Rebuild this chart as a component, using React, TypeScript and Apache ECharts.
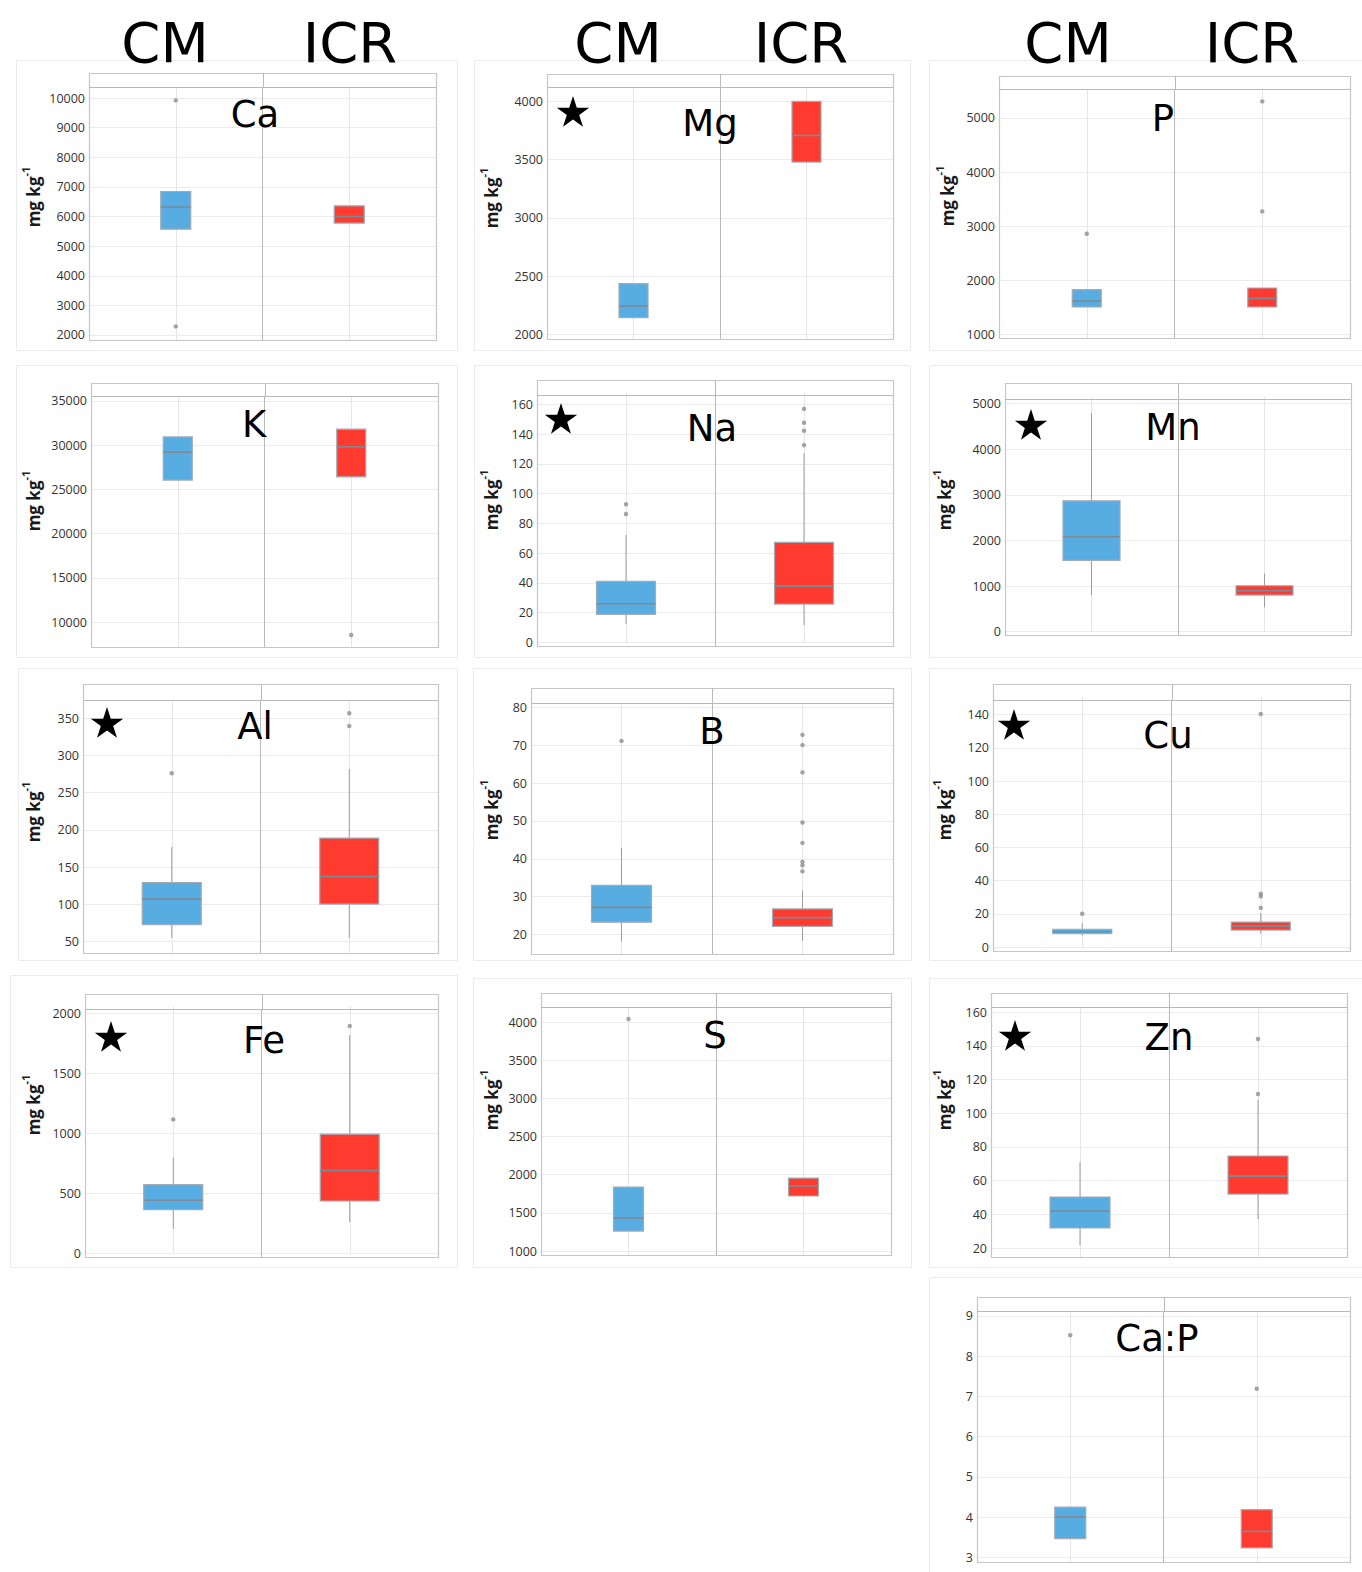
import React, { useEffect, useRef } from 'react';
import * as echarts from 'echarts';

const categories = ['CM', 'ICR'];
const elements = ['Ca', 'Mg', 'P', 'K', 'Na', 'Mn', 'Al', 'B', 'Cu', 'Fe', 'S', 'Zn', 'Ca:P'];
const significant = [false, true, false, false, true, true, true, false, true, true, false, true, false];
const yAxisTitle = ['mg kg', '-1'];

// box values: [whisker min, Q1, median, Q3, whisker max], one row per category
const caBoxes = [[5574, 5574, 6318, 6845, 6845], [5777, 5777, 6000, 6361, 6361]];
const caOutliers = [[0, 9920], [0, 2290]];
const mgBoxes = [[2143, 2143, 2243, 2435, 2435], [3479, 3479, 3708, 4000, 4000]];
const mgOutliers: number[][] = [];
const pBoxes = [[1500, 1500, 1611, 1820, 1820], [1500, 1500, 1659, 1852, 1852]];
const pOutliers = [[0, 2857], [1, 5307], [1, 3270]];
const kBoxes = [[26056, 26056, 29214, 30940, 30940], [26428, 26428, 29812, 31808, 31808]];
const kOutliers = [[1, 8534]];
const naBoxes = [[12.3, 18.8, 25.9, 41.0, 72.1], [11.6, 25.7, 37.8, 67.2, 127.1]];
const naOutliers = [[0, 92.8], [0, 86.3], [1, 157.0], [1, 147.6], [1, 142.3], [1, 132.6]];
const mnBoxes = [[803, 1563, 2080, 2868, 4794], [534, 803, 898, 1007, 1278]];
const mnOutliers: number[][] = [];
const alBoxes = [[54.6, 72.4, 106.9, 129.2, 176.8], [54.6, 100.2, 137.3, 188.9, 281.9]];
const alOutliers = [[0, 276.2], [1, 356.7], [1, 339.6]];
const bBoxes = [[18.2, 23.3, 27.2, 33.0, 42.9], [18.4, 22.2, 24.5, 26.8, 31.7]];
const bOutliers = [[0, 71.1], [1, 72.7], [1, 70.0], [1, 62.8], [1, 49.6], [1, 44.2], [1, 39.2], [1, 38.3], [1, 36.7]];
const cuBoxes = [[6.8, 8.0, 9.2, 10.6, 14.3], [8.0, 10.2, 12.6, 15.0, 20.5]];
const cuOutliers = [[0, 20.0], [1, 140.4], [1, 32.1], [1, 30.5], [1, 23.6]];
const feBoxes = [[208, 367, 444, 575, 800], [263, 438, 692, 994, 1819]];
const feOutliers = [[0, 1117], [1, 1894]];
const sBoxes = [[1262, 1262, 1432, 1838, 1838], [1721, 1721, 1852, 1956, 1956]];
const sOutliers = [[0, 4039]];
const znBoxes = [[21.8, 31.9, 42, 50.3, 71], [37.2, 52, 62.7, 74.6, 107.8]];
const znOutliers = [[1, 144], [1, 111.4]];
const caPBoxes = [[3.47, 3.47, 4.01, 4.25, 4.25], [3.24, 3.24, 3.65, 4.19, 4.19]];
const caPOutliers = [[0, 8.52], [1, 7.19]];

const allBoxes = [caBoxes, mgBoxes, pBoxes, kBoxes, naBoxes, mnBoxes, alBoxes, bBoxes, cuBoxes, feBoxes, sBoxes, znBoxes, caPBoxes];
const allOutliers = [caOutliers, mgOutliers, pOutliers, kOutliers, naOutliers, mnOutliers, alOutliers, bOutliers, cuOutliers, feOutliers, sOutliers, znOutliers, caPOutliers];

// y axis ranges and tick steps
const yMins = [1831, 1960, 926, 7180, -2.5, -72, 34.4, 14.9, -2.4, -28, 948, 14.7, 2.89];
const yMaxs = [10372, 4124, 5537, 35564, 166.3, 5101, 374.6, 81.1, 148.8, 2036, 4197, 163, 9.12];
const yIntervals = [1000, 500, 1000, 5000, 20, 1000, 50, 10, 20, 500, 500, 20, 1];

// layout (pixels): frame [x,y,w,h]; plot [left, top, right, headerY, bottom]
const layout = [
  { frame: [16, 60, 441, 290], plot: [89, 73, 436, 87, 340], label: [255, 114], star: null, yName: [31, 197], boxW: 30 },
  { frame: [474, 60, 436, 290], plot: [547, 74, 893, 87, 339], label: [710, 123], star: [573, 113], yName: [489, 198], boxW: 29 },
  { frame: [929, 60, 440, 290], plot: [999, 76, 1350, 89, 338], label: [1163, 118], star: null, yName: [945, 196], boxW: 29 },
  { frame: [16, 365, 441, 292], plot: [91, 383, 438, 396, 647], label: [254, 424], star: null, yName: [31, 501], boxW: 29 },
  { frame: [474, 365, 436, 292], plot: [537, 380, 893, 395, 646], label: [712, 428], star: [561, 420], yName: [489, 500], boxW: 59 },
  { frame: [929, 365, 440, 292], plot: [1005, 383, 1351, 399, 635], label: [1173, 427], star: [1031, 426], yName: [942, 500], boxW: 57 },
  { frame: [18, 668, 439, 292], plot: [83, 684, 438, 700, 953], label: [255, 726], star: [107, 724], yName: [31, 812], boxW: 59 },
  { frame: [473, 668, 438, 292], plot: [531, 688, 893, 703, 954], label: [712, 731], star: null, yName: [489, 810], boxW: 60 },
  { frame: [929, 668, 440, 292], plot: [993, 684, 1350, 700, 951], label: [1168, 735], star: [1014, 726], yName: [942, 810], boxW: 59 },
  { frame: [10, 975, 447, 292], plot: [85, 994, 438, 1009, 1257], label: [264, 1040], star: [111, 1038], yName: [31, 1105], boxW: 59 },
  { frame: [473, 978, 438, 289], plot: [541, 993, 891, 1007, 1255], label: [715, 1035], star: null, yName: [489, 1100], boxW: 30 },
  { frame: [929, 978, 440, 289], plot: [991, 993, 1347, 1007, 1257], label: [1169, 1037], star: [1015, 1037], yName: [942, 1100], boxW: 60 },
  { frame: [929, 1277, 440, 300], plot: [977, 1297, 1350, 1311, 1562], label: [1157, 1338], star: null, yName: null, boxW: 31 },
];

const headerLabels = [
  { x: 165, y: 42, t: 0 }, { x: 350, y: 42, t: 1 },
  { x: 618, y: 42, t: 0 }, { x: 801, y: 42, t: 1 },
  { x: 1068, y: 42, t: 0 }, { x: 1252, y: 42, t: 1 },
];

const FILLS = ['#57ADE1', '#FF3A2F'];

function starPoints(cx: number, cy: number, R: number) {
  const pts: number[][] = [];
  for (let i = 0; i < 10; i++) {
    const a = -Math.PI / 2 + (i * Math.PI) / 5;
    const r = i % 2 === 0 ? R : R * 0.382;
    pts.push([cx + r * Math.cos(a), cy + r * Math.sin(a)]);
  }
  return pts;
}

function buildOption() {
  const grid: any[] = [];
  const xAxis: any[] = [];
  const yAxis: any[] = [];
  const series: any[] = [];
  const graphic: any[] = [];

  layout.forEach((L, i) => {
    const [left, top, right, headerY, bottom] = L.plot;
    const h = bottom - headerY;
    grid.push({ left, top: headerY, width: right - left, height: h, outerBoundsMode: 'none', containLabel: false, show: false });
    xAxis.push({
      type: 'category', gridIndex: i, data: categories, boundaryGap: true,
      axisLine: { show: false }, axisLabel: { show: false },
      axisTick: { show: true, alignWithLabel: true, inside: true, length: h - 1, lineStyle: { color: '#e6e6e6', width: 1 } },
      splitLine: { show: true, interval: 0, lineStyle: { color: '#b9b9b9', width: 1 } },
    });
    const step = yIntervals[i];
    yAxis.push({
      type: 'value', gridIndex: i, min: yMins[i], max: yMaxs[i], minInterval: step, maxInterval: step,
      axisLine: { show: false }, axisTick: { show: false },
      splitLine: { show: true, lineStyle: { color: '#ececec', width: 1 } },
      axisLabel: {
        show: true, showMinLabel: false, showMaxLabel: false, margin: 4,
        color: '#333', fontSize: 12.5, fontFamily: 'Open Sans',
        formatter: (v: number) => {
          const r = v / step;
          return Math.abs(r - Math.round(r)) < 1e-6 ? String(+v.toFixed(6)) : '';
        },
      },
    });
    const boxW = L.boxW;
    series.push({
      type: 'custom', xAxisIndex: i, yAxisIndex: i, silent: true, z: 3,
      data: allBoxes[i].map((b, k) => [k, ...b]),
      encode: { x: 0, y: [1, 2, 3, 4, 5] },
      renderItem: (params: any, api: any) => {
        const k = api.value(0);
        const pMin = api.coord([k, api.value(1)]);
        const pQ1 = api.coord([k, api.value(2)]);
        const pMed = api.coord([k, api.value(3)]);
        const pQ3 = api.coord([k, api.value(4)]);
        const pMax = api.coord([k, api.value(5)]);
        const cx = pQ1[0];
        const children: any[] = [];
        if (pMin[1] - pQ1[1] > 0.5) children.push({ type: 'line', shape: { x1: cx, y1: pQ1[1], x2: cx, y2: pMin[1] }, style: { stroke: '#9c9c9c', lineWidth: 1 } });
        if (pQ3[1] - pMax[1] > 0.5) children.push({ type: 'line', shape: { x1: cx, y1: pQ3[1], x2: cx, y2: pMax[1] }, style: { stroke: '#9c9c9c', lineWidth: 1 } });
        children.push({ type: 'rect', shape: { x: cx - boxW / 2, y: pQ3[1], width: boxW, height: pQ1[1] - pQ3[1] }, style: { fill: FILLS[k], stroke: '#a3abb5', lineWidth: 1.2 } });
        children.push({ type: 'line', shape: { x1: cx - boxW / 2, y1: pMed[1], x2: cx + boxW / 2, y2: pMed[1] }, style: { stroke: '#7e8a96', lineWidth: 1.6 } });
        return { type: 'group', children };
      },
    });
    series.push({
      type: 'scatter', xAxisIndex: i, yAxisIndex: i, silent: true, z: 4,
      symbol: 'circle', symbolSize: 4.5, itemStyle: { color: '#8e8e8e' },
      data: allOutliers[i],
    });

    // panel frames
    const [fx, fy, fw, fh] = L.frame;
    graphic.push({ type: 'rect', silent: true, z: 0, shape: { x: fx + 0.5, y: fy + 0.5, width: fw, height: fh }, style: { fill: 'none', stroke: '#ececec', lineWidth: 1 } });
    graphic.push({ type: 'rect', silent: true, z: 1, shape: { x: left + 0.5, y: top + 0.5, width: right - left, height: bottom - top }, style: { fill: 'none', stroke: '#c6c6c6', lineWidth: 1.2 } });
    graphic.push({ type: 'line', silent: true, z: 1, shape: { x1: left, y1: headerY + 0.5, x2: right, y2: headerY + 0.5 }, style: { stroke: '#b9b9b9', lineWidth: 1.2 } });
    const cxMid = Math.round((left + right) / 2) + 0.5;
    graphic.push({ type: 'line', silent: true, z: 1, shape: { x1: cxMid, y1: top, x2: cxMid, y2: headerY }, style: { stroke: '#b9b9b9', lineWidth: 1 } });
    // element label
    graphic.push({ type: 'text', silent: true, z: 10, x: L.label[0], y: L.label[1], style: { text: elements[i], fontFamily: 'DejaVu Sans', fontSize: 37, fill: '#000', align: 'center', verticalAlign: 'middle' } });
    if (significant[i] && L.star) {
      graphic.push({ type: 'polygon', silent: true, z: 10, shape: { points: starPoints(L.star[0], L.star[1], 17) }, style: { fill: '#000' } });
    }
    if (L.yName) {
      graphic.push({
        type: 'text', silent: true, z: 10, x: L.yName[0], y: L.yName[1], rotation: Math.PI / 2,
        style: {
          text: `{a|${yAxisTitle[0]}}{b|${yAxisTitle[1]}}`, align: 'center', verticalAlign: 'middle',
          rich: {
            a: { fontFamily: 'Open Sans', fontWeight: 'bold', fontSize: 17, fill: '#1a1a1a', lineHeight: 22, verticalAlign: 'bottom' },
            b: { fontFamily: 'Open Sans', fontWeight: 'bold', fontSize: 11, fill: '#1a1a1a', lineHeight: 22, verticalAlign: 'top' },
          },
        },
      });
    }
  });

  headerLabels.forEach((h) => {
    graphic.push({ type: 'text', silent: true, z: 10, x: h.x, y: h.y, style: { text: categories[h.t], fontFamily: 'DejaVu Sans', fontSize: 56, fill: '#000', align: 'center', verticalAlign: 'middle' } });
  });

  return {
    animation: false,
    backgroundColor: '#ffffff',
    textStyle: { fontFamily: 'Open Sans' },
    grid, xAxis, yAxis, series, graphic,
  };
}

export default function App() {
  const ref = useRef<HTMLDivElement>(null);
  useEffect(() => {
    if (!ref.current) return;
    const chart = echarts.init(ref.current, undefined, { renderer: 'svg' });
    chart.setOption(buildOption() as any);
    return () => chart.dispose();
  }, []);
  return <div ref={ref} style={{ position: 'absolute', left: 0, top: 0, width: 1362, height: 1572, background: '#fff' }} />;
}
